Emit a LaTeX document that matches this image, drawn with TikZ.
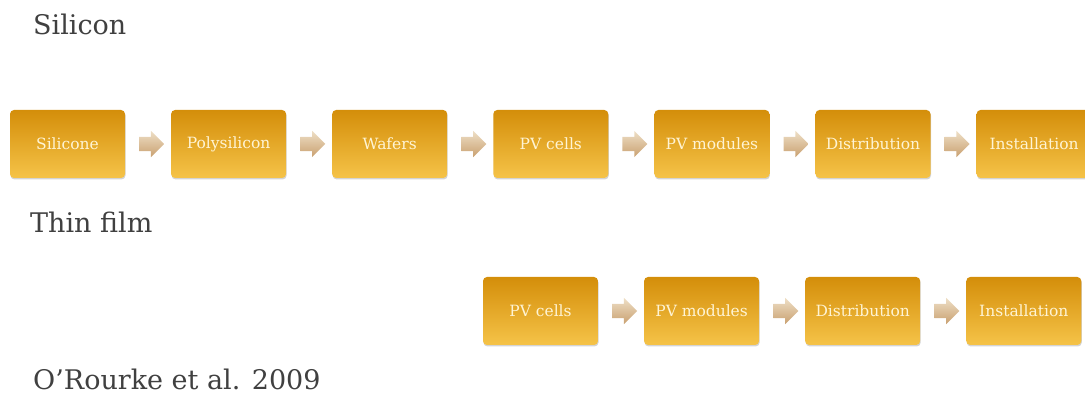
\documentclass[tikz,border=0pt]{standalone}
\usepackage{fontspec}
\setmainfont{DejaVu Serif}
\usetikzlibrary{positioning,shapes.arrows,shadows,calc}

\definecolor{boxtop}{HTML}{D48E0A}
\definecolor{boxbot}{HTML}{F5C348}
\definecolor{boxtext}{HTML}{FFF4D4}
\definecolor{arrtop}{HTML}{EEDFC6}
\definecolor{arrbot}{HTML}{C9A070}
\definecolor{headtext}{HTML}{404040}

\tikzset{
	stage/.style={rectangle, rounded corners=4pt, minimum width=115pt, minimum height=68pt,
		top color=boxtop, bottom color=boxbot, text=boxtext, font=\fontsize{15.5}{18}\selectfont,
		drop shadow={shadow xshift=0.5pt, shadow yshift=-1.5pt, opacity=0.35}},
	flow/.style={single arrow, inner sep=7pt, minimum height=25pt, single arrow head extend=6pt,
		top color=arrtop, bottom color=arrbot},
	heading/.style={anchor=base west, inner sep=0pt, text=headtext, font=\fontsize{27}{30}\selectfont}
}

\begin{document}
\begin{tikzpicture}[x=1pt, y=1pt, node distance=45.7pt]
		\clip (0,0) rectangle (1085,398);
		
		% silicon chain
		\node[heading] (silhead) at (33,363) {Silicon};
		\node[stage] (silicone) at (67.5,254) {Silicone};
		\node[stage, right=of silicone] (poly) {Polysilicon};
		\node[stage, right=of poly] (wafers) {Wafers};
		\node[stage, right=of wafers] (cells) {PV cells};
		\node[stage, right=of cells] (modules) {PV modules};
		\node[stage, right=of modules] (distrib) {Distribution};
		\node[stage, right=of distrib] (install) {Installation};
		\node[flow] (a1) at ($(silicone.east)!0.5!(poly.west)$) {};
		\node[flow] (a2) at ($(poly.east)!0.5!(wafers.west)$) {};
		\node[flow] (a3) at ($(wafers.east)!0.5!(cells.west)$) {};
		\node[flow] (a4) at ($(cells.east)!0.5!(modules.west)$) {};
		\node[flow] (a5) at ($(modules.east)!0.5!(distrib.west)$) {};
		\node[flow] (a6) at ($(distrib.east)!0.5!(install.west)$) {};
		
		% thin film chain
		\node[heading] (thinhead) at (30,165) {Thin film};
		\node[stage] (cellsb) at (540.5,87) {PV cells};
		\node[stage, right=of cellsb] (modulesb) {PV modules};
		\node[stage, right=of modulesb] (distribb) {Distribution};
		\node[stage, right=of distribb] (installb) {Installation};
		\node[flow] (b1) at ($(cellsb.east)!0.5!(modulesb.west)$) {};
		\node[flow] (b2) at ($(modulesb.east)!0.5!(distribb.west)$) {};
		\node[flow] (b3) at ($(distribb.east)!0.5!(installb.west)$) {};
		
		\node[heading] (source) at (33,8) {O’Rourke et al. 2009};
\end{tikzpicture}
\end{document}
